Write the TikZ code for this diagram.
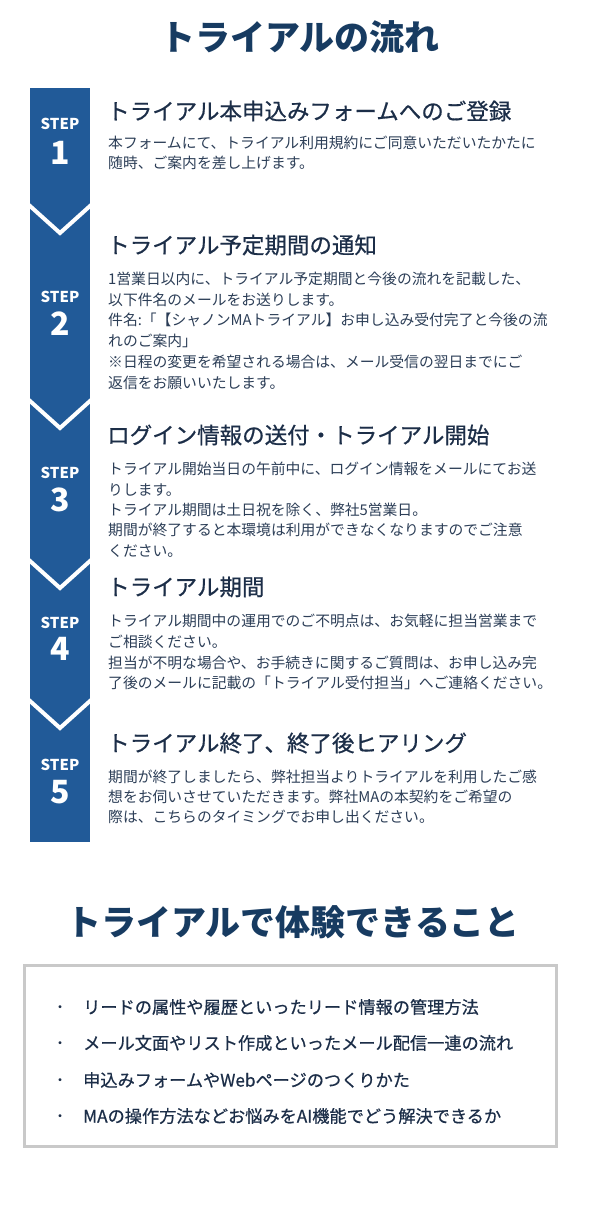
\documentclass[tikz,border=0pt]{standalone}
\usepackage{fontspec}
\newfontfamily\jp{Noto Sans CJK JP}
\newfontfamily\jpm[FakeBold=0.6]{Noto Sans CJK JP}
\definecolor{stepblue}{HTML}{215A98}
\definecolor{navy}{HTML}{173B61}
\definecolor{headc}{HTML}{1C2E48}
\definecolor{bodyc}{HTML}{2C3E57}
\definecolor{boxgray}{HTML}{C9C9C9}
\tikzset{
  bigtitle/.style={font=\jp\bfseries\fontsize{35}{40}\selectfont, text=navy, inner sep=0},
  stephead/.style={anchor=west, font=\jpm\fontsize{22.5}{26}\selectfont, text=headc, inner sep=0},
  bodyline/.style={anchor=west, font=\jp\fontsize{14.8}{20}\selectfont, text=bodyc, inner sep=0},
  steplbl/.style={font=\jp\bfseries\fontsize{15}{17}\selectfont, text=white, inner sep=0},
  stepnum/.style={font=\jp\bfseries\fontsize{32}{36}\selectfont, text=white, inner sep=0},
  bullet/.style={font=\jp\fontsize{14}{18}\selectfont, text=headc, inner sep=0},
  bulline/.style={anchor=west, font=\jpm\fontsize{17.2}{22}\selectfont, text=headc, inner sep=0},
  vcut/.style={draw=white, line width=4pt}
}
\begin{document}
\begin{tikzpicture}[x=1pt,y=-1pt]
\useasboundingbox[fill=white] (0,0) rectangle (600,1208);
% title
\node[bigtitle] (t1) at (300,37) {トライアルの流れ};
% step column
\fill[stepblue] (30,88) rectangle (90,842);
\begin{scope}
\clip (30,88) rectangle (90,842);
\foreach \y in {206,401,561,701}{
  \draw[vcut] (26,\y-3.6) -- (60,\y+27) -- (94,\y-3.6);
}
\end{scope}
% step labels
\node[steplbl] (s1) at (60,124) {STEP};
\node[stepnum] (n1) at (60,153) {1};
\node[steplbl] (s2) at (60,297) {STEP};
\node[stepnum] (n2) at (60,324) {2};
\node[steplbl] (s3) at (60,473) {STEP};
\node[stepnum] (n3) at (60,500) {3};
\node[steplbl] (s4) at (60,623) {STEP};
\node[stepnum] (n4) at (60,649) {4};
\node[steplbl] (s5) at (60,765) {STEP};
\node[stepnum] (n5) at (60,792) {5};
% step 1
\node[stephead] (h1) at (107,111) {トライアル本申込みフォームへのご登録};
\node[bodyline] (b11) at (108,143) {本フォームにて、トライアル利用規約にご同意いただいたかたに};
\node[bodyline] (b12) at (108,163) {随時、ご案内を差し上げます。};
% step 2
\node[stephead] (h2) at (107,245) {トライアル予定期間の通知};
\node[bodyline] (b21) at (108,279) {1営業日以内に、トライアル予定期間と今後の流れを記載した、};
\node[bodyline] (b22) at (108,300) {以下件名のメールをお送りします。};
\node[bodyline] (b23) at (108,320) {件名:「【シャノンMAトライアル】お申し込み受付完了と今後の流};
\node[bodyline] (b24) at (108,341) {れのご案内」};
\node[bodyline] (b25) at (108,362) {※日程の変更を希望される場合は、メール受信の翌日までにご};
\node[bodyline] (b26) at (108,383) {返信をお願いいたします。};
% step 3
\node[stephead] (h3) at (107,435) {ログイン情報の送付・トライアル開始};
\node[bodyline] (b31) at (108,469) {トライアル開始当日の午前中に、ログイン情報をメールにてお送};
\node[bodyline] (b32) at (108,490) {りします。};
\node[bodyline] (b33) at (108,510) {トライアル期間は土日祝を除く、弊社5営業日。};
\node[bodyline] (b34) at (108,530) {期間が終了すると本環境は利用ができなくなりますのでご注意};
\node[bodyline] (b35) at (108,551) {ください。};
% step 4
\node[stephead] (h4) at (107,587) {トライアル期間};
\node[bodyline] (b41) at (108,621) {トライアル期間中の運用でのご不明点は、お気軽に担当営業まで};
\node[bodyline] (b42) at (108,642) {ご相談ください。};
\node[bodyline] (b43) at (108,663) {担当が不明な場合や、お手続きに関するご質問は、お申し込み完};
\node[bodyline] (b44) at (108,683) {了後のメールに記載の「トライアル受付担当」へご連絡ください。};
% step 5
\node[stephead] (h5) at (107,743) {トライアル終了、終了後ヒアリング};
\node[bodyline] (b51) at (108,777) {期間が終了しましたら、弊社担当よりトライアルを利用したご感};
\node[bodyline] (b52) at (108,797) {想をお伺いさせていただきます。弊社MAの本契約をご希望の};
\node[bodyline] (b53) at (108,817) {際は、こちらのタイミングでお申し出ください。};
% second title
\node[bigtitle] (t2) at (293,922) {トライアルで体験できること};
% box
\draw[boxgray, line width=3pt] (24,965) rectangle (556,1146);
\foreach \y/\t [count=\i] in {1007/{リードの属性や履歴といったリード情報の管理方法},
  1043/{メール文面やリスト作成といったメール配信一連の流れ},
  1080/{申込みフォームやWebページのつくりかた},
  1116/{MAの操作方法などお悩みをAI機能でどう解決できるか}}{
  \node[bullet] (d\i) at (60,\y+2) {・};
  \node[bulline] (l\i) at (83,\y) {\t};
}
\end{tikzpicture}
\end{document}
